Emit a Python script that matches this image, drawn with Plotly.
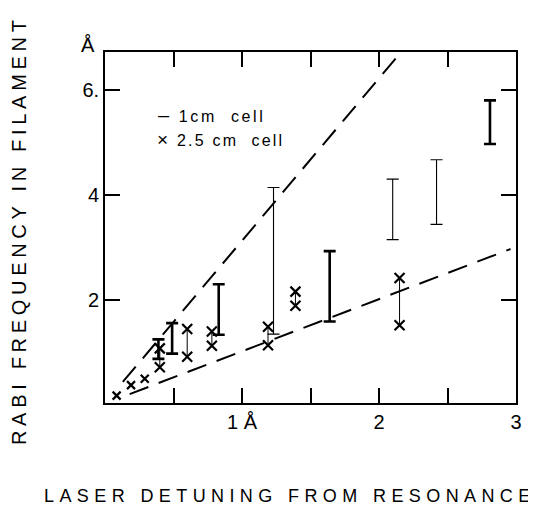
import plotly.graph_objects as go

# ---- data ----
# 1 cm cell: ranges (I-bars)
bar_x    = [0.39, 0.49, 0.83, 1.23, 1.64, 2.10, 2.42, 2.81]
bar_low  = [0.88, 0.98, 1.34, 1.35, 1.59, 3.15, 3.44, 4.97]
bar_high = [1.25, 1.56, 2.30, 4.14, 2.93, 4.30, 4.67, 5.80]

# 2.5 cm cell: single points and pairs (x markers)
single_x = [0.085, 0.19, 0.29]
single_y = [0.18, 0.38, 0.50]
pair_x    = [0.40, 0.60, 0.78, 1.19, 1.39, 2.15]
pair_low  = [0.72, 0.92, 1.13, 1.14, 1.89, 1.52]
pair_high = [1.08, 1.45, 1.40, 1.49, 2.16, 2.42]

# dashed guide lines
upper_x = [0.13, 2.13]
upper_y = [0.44, 6.62]
lower_x = [0.18, 2.96]
lower_y = [0.21, 2.97]

x_tickvals = [0, 0.5, 1, 1.5, 2, 2.5, 3]
x_ticktext = ["", "", "1 Å", "", "2", "", "3"]
y_tickvals = [2, 4, 6]
y_ticktext = ["2", "4", "6."]

# ---- figure ----
fig = go.Figure()

dash_style = dict(color="black", width=2, dash="20px,11px")
fig.add_trace(go.Scatter(x=upper_x, y=upper_y, mode="lines", line=dash_style, hoverinfo="skip"))
fig.add_trace(go.Scatter(x=lower_x, y=lower_y, mode="lines", line=dash_style, hoverinfo="skip"))

thin_idx = {3, 5, 6}
groups = {"thick": [i for i in range(len(bar_x)) if i not in thin_idx],
          "thin": sorted(thin_idx)}
widths = {"thick": 2.6, "thin": 1.1}
for g, idx in groups.items():
    xs = [bar_x[i] for i in idx]
    mids = [(bar_low[i] + bar_high[i]) / 2 for i in idx]
    up = [bar_high[i] - m for i, m in zip(idx, mids)]
    dn = [m - bar_low[i] for i, m in zip(idx, mids)]
    fig.add_trace(go.Scatter(
        x=xs, y=mids, mode="markers", marker=dict(size=1, color="rgba(0,0,0,0)"),
        error_y=dict(type="data", symmetric=False, array=up, arrayminus=dn,
                     color="black", thickness=widths[g], width=6),
        hoverinfo="skip"))

# pairs connected with thin vertical line
px, py = [], []
for x, lo, hi in zip(pair_x, pair_low, pair_high):
    px += [x, x, None]
    py += [hi, lo, None]
fig.add_trace(go.Scatter(x=px, y=py, mode="lines", line=dict(color="black", width=1),
                         hoverinfo="skip"))
fig.add_trace(go.Scatter(x=pair_x + pair_x, y=pair_high + pair_low, mode="markers",
                         marker=dict(symbol="x-thin", size=10, line=dict(color="black", width=2.2)),
                         hoverinfo="skip"))
fig.add_trace(go.Scatter(x=single_x, y=single_y, mode="markers",
                         marker=dict(symbol="x-thin", size=8, line=dict(color="black", width=2.2)),
                         hoverinfo="skip"))

font_main = "Liberation Sans, Arial, sans-serif"
axis_common = dict(showline=True, linecolor="black", linewidth=1.8, mirror="allticks",
                   ticks="inside", ticklen=15, tickwidth=1.6, tickcolor="black",
                   showgrid=False, zeroline=False,
                   tickfont=dict(family=font_main, size=20, color="black"))

fig.update_layout(
    width=528, height=505,
    margin=dict(l=97, r=20, t=44, b=110),
    paper_bgcolor="white", plot_bgcolor="white",
    showlegend=False,
    xaxis=dict(range=[0, 3], tickmode="array", tickvals=x_tickvals, ticktext=x_ticktext,
               **axis_common),
    yaxis=dict(range=[0.04, 6.72], tickmode="array", tickvals=y_tickvals, ticktext=y_ticktext,
               **axis_common),
    annotations=[
        dict(text="Å", xref="paper", yref="paper", x=-0.041, y=1.02, showarrow=False,
             font=dict(family=font_main, size=20, color="black"), xanchor="center", yanchor="middle"),
        dict(text='<span style="letter-spacing:2.6px"><span style="font-size:20px">–</span> 1cm  cell</span>',
             xref="paper", yref="paper",
             x=0.125, y=0.82, showarrow=False, xanchor="left", yanchor="middle",
             font=dict(family=font_main, size=16, color="black")),
        dict(text='<span style="letter-spacing:2.2px"><span style="font-size:19px">×</span> 2.5 cm  cell</span>',
             xref="paper", yref="paper",
             x=0.122, y=0.752, showarrow=False, xanchor="left", yanchor="middle",
             font=dict(family=font_main, size=16, color="black")),
        dict(text='<span style="letter-spacing:4.7px">RABI FREQUENCY IN FILAMENT</span>',
             xref="paper", yref="paper", x=-0.209, y=0.493, textangle=-90, showarrow=False,
             xanchor="center", yanchor="middle",
             font=dict(family=font_main, size=20, color="black")),
        dict(text='<span style="letter-spacing:5.4px">LASER DETUNING FROM RESONANCE</span>',
             xref="paper", yref="paper", x=0.45, y=-0.265, showarrow=False,
             xanchor="center", yanchor="middle",
             font=dict(family=font_main, size=18, color="black")),
    ],
)

fig.write_html("out.html")
